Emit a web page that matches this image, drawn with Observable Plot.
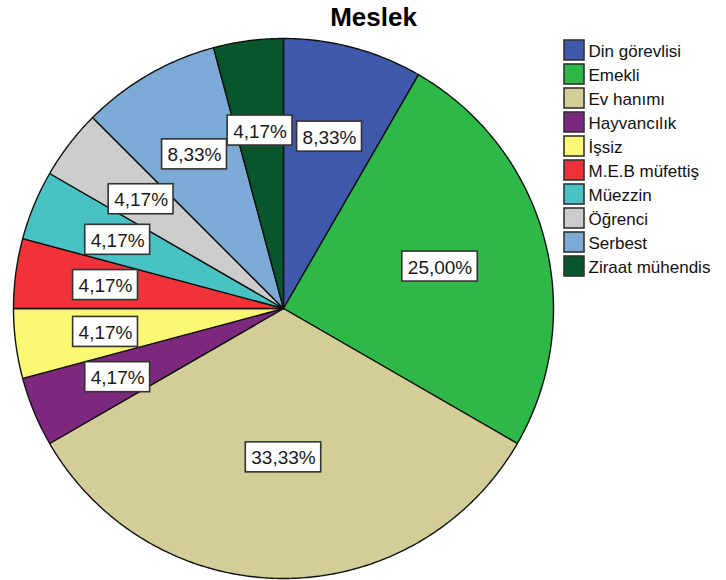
<!DOCTYPE html>
<html>
<head>
<meta charset="utf-8">
<script src="https://cdn.jsdelivr.net/npm/d3@7"></script>
<script src="https://cdn.jsdelivr.net/npm/@observablehq/plot@0.6"></script>
<style>
  html, body { margin: 0; padding: 0; background: #fff; }
  #chart svg { display: block; }
</style>
</head>
<body>
<div id="chart"></div>
<script>
// ---- data ----
const title = "Meslek";
const categories = ["Din görevlisi", "Emekli", "Ev hanımı", "Hayvancılık", "İşsiz",
  "M.E.B müfettiş", "Müezzin", "Öğrenci", "Serbest", "Ziraat mühendis"];
const counts = [2, 6, 8, 1, 1, 1, 1, 1, 2, 1];
const colors = ["#3E58AC", "#2EB848", "#D3CE97", "#7C287D", "#FBF873",
  "#EF3338", "#48C2C5", "#CCCCCC", "#7AAAD5", "#0A562C"];

// ---- layout ----
const W = 726, H = 580;
const cx = 283, cy = 308, R = 270;
const total = d3.sum(counts);
const fmt = v => (v).toFixed(2).replace(".", ",") + "%";

// slices (angles clockwise from 12 o'clock)
let acc = 0;
const slices = categories.map((name, i) => {
  const a0 = acc / total * 2 * Math.PI;
  acc += counts[i];
  const a1 = acc / total * 2 * Math.PI;
  return {name, value: counts[i], pct: counts[i] / total * 100, a0, a1};
});

const pts = [];
for (const s of slices) {
  pts.push({name: s.name, x: 0, y: 0});
  const n = Math.max(4, Math.ceil((s.a1 - s.a0) / (Math.PI / 360)));
  for (let k = 0; k <= n; k++) {
    const a = s.a0 + (s.a1 - s.a0) * k / n;
    pts.push({name: s.name, x: R * Math.sin(a), y: -R * Math.cos(a)});
  }
  pts.push({name: s.name, x: 0, y: 0});
}

// label positions at sector centroid
const fontLabel = 19;
const ctx = document.createElement("canvas").getContext("2d");
ctx.font = `${fontLabel}px "Liberation Sans", Arial, sans-serif`;
const labels = slices.map(s => {
  const half = (s.a1 - s.a0) / 2, mid = s.a0 + half;
  const r = 2 * R * Math.sin(half) / (3 * half);
  const text = fmt(s.pct);
  const w = ctx.measureText(text).width + 11;
  const h = 30;
  const x = r * Math.sin(mid), y = -r * Math.cos(mid);
  return {text, x, y, x1: x - w / 2, x2: x + w / 2, y1: y - h / 2, y2: y + h / 2};
});

// legend rows
const lx = 564 - cx, ly = 40 - cy, sq = 20, step = 24;
const legend = categories.map((name, i) => ({
  name,
  x1: lx, x2: lx + sq, y1: ly + i * step, y2: ly + i * step + sq,
  tx: lx + sq + 4, ty: ly + i * step + sq / 2
}));

const chart = Plot.plot({
  width: W, height: H,
  margin: 0,
  style: {fontFamily: '"Liberation Sans", Arial, sans-serif', background: "#fff"},
  x: {type: "linear", domain: [-cx, W - cx], range: [0, W], axis: null},
  y: {type: "linear", domain: [-cy, H - cy], range: [0, H], axis: null},
  color: {domain: categories, range: colors},
  marks: [
    Plot.line(pts, {x: "x", y: "y", z: "name", fill: "name", stroke: "#111", strokeWidth: 1.4, strokeLinejoin: "round", curve: "linear"}),
    Plot.rect(labels, {x1: "x1", x2: "x2", y1: "y1", y2: "y2", fill: "#fff", stroke: "#333", strokeWidth: 1.6}),
    Plot.text(labels, {x: "x", y: "y", text: "text", fontSize: fontLabel, fill: "#1a1a1a", dy: 1}),
    Plot.rect(legend, {x1: "x1", x2: "x2", y1: "y1", y2: "y2", fill: "name", stroke: "#333", strokeWidth: 1.6}),
    Plot.text(legend, {x: "tx", y: "ty", text: "name", textAnchor: "start", fontSize: 17, fill: "#111", dy: 1}),
    Plot.text([title], {frameAnchor: "top", lineAnchor: "top", dx: 10, dy: 7, fontSize: 26, fontWeight: "bold", fill: "#000"})
  ]
});
document.getElementById("chart").appendChild(chart);
</script>
</body>
</html>
